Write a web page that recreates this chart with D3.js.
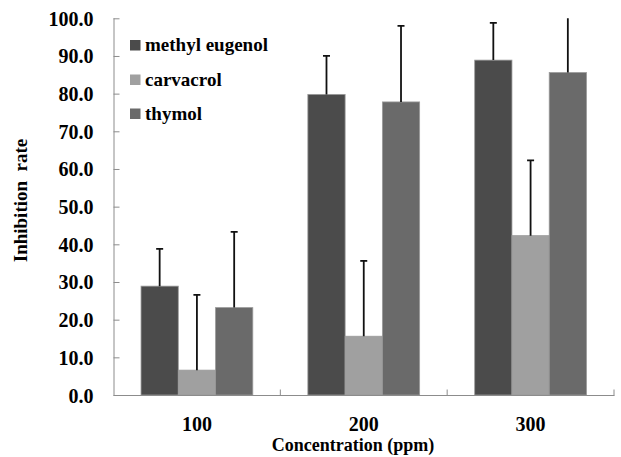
<!DOCTYPE html>
<html>
<head>
<meta charset="utf-8">
<script src="https://cdn.jsdelivr.net/npm/d3@7"></script>
<style>
body{margin:0;background:#fff;}
text{font-family:"Liberation Serif","Times New Roman",serif;font-weight:bold;fill:#000;}
</style>
</head>
<body>
<svg id="c" width="621" height="457"></svg>
<script>
const categories = ["100","200","300"];
const seriesNames = ["methyl eugenol","carvacrol","thymol"];
const seriesColors = ["#4b4b4b","#a0a0a0","#6a6a6a"];
const methylEugenol = [28.9, 79.8, 88.9];
const carvacrol = [6.6, 15.6, 42.3];
const thymol = [23.2, 77.8, 85.6];
const methylEugenolErr = [9.9, 10.2, 9.9];
const carvacrolErr = [20.0, 20.0, 20.0];
const thymolErr = [20.1, 20.2, 20.0];
const yTicks = [0,10,20,30,40,50,60,70,80,90,100];

const values = [methylEugenol, carvacrol, thymol];
const errs = [methylEugenolErr, carvacrolErr, thymolErr];

const svg = d3.select("#c");
const pLeft = 113.5, pRight = 614, pTop = 18.3, pBottom = 395;

const x0 = d3.scaleBand().domain(categories).range([pLeft, pRight]).paddingInner(0).paddingOuter(0);
const x1 = d3.scaleBand().domain(seriesNames).range([x0.bandwidth()*0.165, x0.bandwidth()*0.835]).padding(0);
const y = d3.scaleLinear().domain([0,100]).range([pBottom, pTop]);

svg.append("defs").append("clipPath").attr("id","clip")
  .append("rect").attr("x",pLeft).attr("y",pTop).attr("width",pRight-pLeft).attr("height",pBottom-pTop);

// bars
const g = svg.append("g");
categories.forEach((c, ci) => {
  seriesNames.forEach((s, si) => {
    g.append("rect")
      .attr("x", x0(c) + x1(s))
      .attr("y", y(values[si][ci]))
      .attr("width", x1.bandwidth())
      .attr("height", y(0) - y(values[si][ci]))
      .attr("fill", seriesColors[si])
      .attr("stroke", "#9a9a9a")
      .attr("stroke-width", 0.8);
  });
});

// error bars
const eg = svg.append("g").attr("clip-path","url(#clip)");
categories.forEach((c, ci) => {
  seriesNames.forEach((s, si) => {
    const cx = x0(c) + x1(s) + x1.bandwidth()/2;
    const v = values[si][ci], e = errs[si][ci];
    eg.append("line").attr("x1",cx).attr("x2",cx)
      .attr("y1",y(v)).attr("y2",y(v+e))
      .attr("stroke","#111").attr("stroke-width",1.8);
    eg.append("line").attr("x1",cx-3.5).attr("x2",cx+3.5)
      .attr("y1",y(v+e)).attr("y2",y(v+e))
      .attr("stroke","#111").attr("stroke-width",1.8);
  });
});

// y axis
const yAxis = d3.axisRight(y).tickValues(yTicks).tickSize(6).tickFormat(d3.format(".1f"));
const ya = svg.append("g").attr("transform",`translate(${pLeft},0)`).call(yAxis);
ya.attr("font-family",null);
ya.select(".domain").attr("stroke","#8c8c8c").attr("d",`M0.5,${pTop}V${pBottom}`);
ya.selectAll(".tick line").attr("stroke","#8c8c8c");
ya.selectAll(".tick text").attr("x",-20).attr("text-anchor","end").style("font-size","20px").attr("dy","0.35em");

// x axis
const xa = svg.append("g").attr("transform",`translate(0,${pBottom})`);
xa.append("line").attr("x1",pLeft).attr("x2",pRight+0.5).attr("y1",0.5).attr("y2",0.5).attr("stroke","#8c8c8c");
const bounds = categories.map(c => x0(c) + x0.bandwidth());
bounds.forEach(b => {
  xa.append("line").attr("x1",b).attr("x2",b).attr("y1",0.5).attr("y2",-5.5).attr("stroke","#8c8c8c");
});
categories.forEach(c => {
  xa.append("text").attr("x", x0(c)+x0.bandwidth()/2).attr("y",36)
    .attr("text-anchor","middle").style("font-size","20px").text(c);
});

// axis titles
svg.append("text").attr("x",353).attr("y",451).attr("text-anchor","middle")
  .style("font-size","18px").text("Concentration (ppm)");
svg.append("text").attr("transform","translate(26.5,200.5) rotate(-90)").attr("text-anchor","middle")
  .style("font-size","19px").style("white-space","pre").text("Inhibition  rate");

// legend
const lg = svg.append("g");
const legendBase = [51, 85.5, 119.5];
seriesNames.forEach((s, i) => {
  lg.append("rect").attr("x",130).attr("y",legendBase[i]-11).attr("width",10.5).attr("height",10.5)
    .attr("fill",seriesColors[i]);
  lg.append("text").attr("x",145).attr("y",legendBase[i])
    .style("font-size","19px").text(s);
});
</script>
</body>
</html>
